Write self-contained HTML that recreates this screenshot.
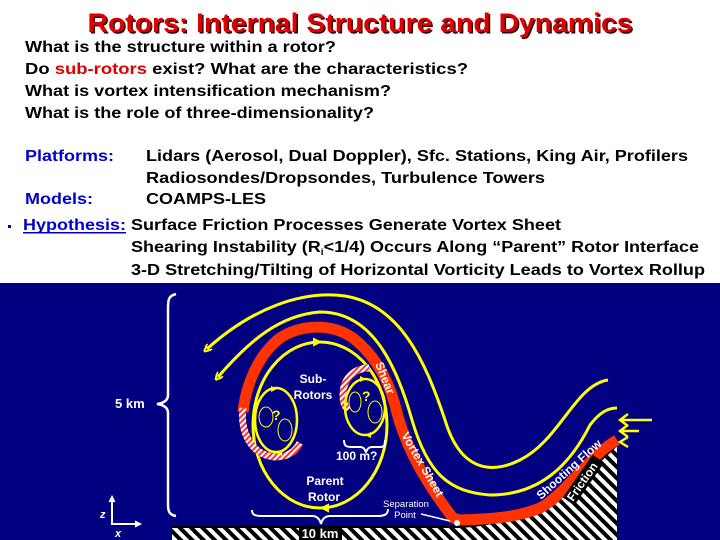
<!DOCTYPE html>
<html><head><meta charset="utf-8"><style>
html,body{margin:0;padding:0;background:#fff}
svg{display:block}
</style></head><body>
<svg width="720" height="540" viewBox="0 0 720 540" xmlns="http://www.w3.org/2000/svg" font-family="Liberation Sans, sans-serif" font-weight="bold">
<defs>
<pattern id="hb" width="8" height="8" patternUnits="userSpaceOnUse" patternTransform="rotate(-45)">
<rect width="8" height="8" fill="#fff"/><rect width="4" height="8" fill="#000"/></pattern>
<pattern id="hr" width="4" height="4" patternUnits="userSpaceOnUse" patternTransform="rotate(45)">
<rect width="4" height="4" fill="#fff"/><rect width="2" height="4" fill="#f33"/></pattern>
<marker id="ay" markerWidth="8" markerHeight="8" refX="4" refY="4" orient="auto" markerUnits="userSpaceOnUse"><path d="M8,0 L0,4 L8,8" fill="none" stroke="#ff0" stroke-width="2"/></marker>
</defs>
<rect width="720" height="540" fill="#fff"/>
<text x="360" y="32" text-anchor="middle" font-size="27" fill="#300" textLength="545" lengthAdjust="spacingAndGlyphs" transform="translate(1.5,1.5)">Rotors:  Internal Structure and Dynamics</text>
<text x="360" y="32" text-anchor="middle" font-size="27" fill="#d00" textLength="545" lengthAdjust="spacingAndGlyphs">Rotors:  Internal Structure and Dynamics</text>
<g font-size="16" fill="#000">
<text x="25" y="52" textLength="311" lengthAdjust="spacingAndGlyphs">What is the structure within a rotor?</text>
<text x="25" y="74" textLength="443" lengthAdjust="spacingAndGlyphs">Do <tspan fill="#d00">sub-rotors</tspan> exist?   What are the characteristics?</text>
<text x="25" y="96" textLength="366" lengthAdjust="spacingAndGlyphs">What is vortex intensification mechanism?</text>
<text x="25" y="118" textLength="349" lengthAdjust="spacingAndGlyphs">What is the role of three-dimensionality?</text>
<text x="25" y="161" fill="#00c" textLength="89" lengthAdjust="spacingAndGlyphs">Platforms:</text>
<text x="146" y="161" textLength="542" lengthAdjust="spacingAndGlyphs">Lidars (Aerosol, Dual Doppler), Sfc. Stations, King Air, Profilers</text>
<text x="146" y="183" textLength="399" lengthAdjust="spacingAndGlyphs">Radiosondes/Dropsondes, Turbulence Towers</text>
<text x="25" y="204" fill="#00c" textLength="68" lengthAdjust="spacingAndGlyphs">Models:</text>
<text x="146" y="204" textLength="120" lengthAdjust="spacingAndGlyphs">COAMPS-LES</text>
<rect x="8" y="225" width="3" height="3" fill="#00c"/>
<text x="23" y="230" fill="#00c" textLength="103" lengthAdjust="spacingAndGlyphs">Hypothesis:</text>
<rect x="23" y="232" width="103" height="1.5" fill="#00c"/>
<text x="131" y="230" textLength="430" lengthAdjust="spacingAndGlyphs">Surface Friction Processes Generate Vortex Sheet</text>
<text x="131" y="252" textLength="568" lengthAdjust="spacingAndGlyphs">Shearing Instability (R<tspan font-size="9" dy="3">i</tspan><tspan dy="-3">&lt;1/4) Occurs Along “Parent” Rotor Interface</tspan></text>
<text x="131" y="275" textLength="574" lengthAdjust="spacingAndGlyphs">3-D Stretching/Tilting of Horizontal Vorticity Leads to Vortex Rollup</text>
</g>
<rect x="0" y="283" width="720" height="257" fill="#000080"/>
<!-- ground -->
<path d="M172,527 L460,527 C520,524 560,500 617,445 L617,540 L172,540 Z" fill="url(#hb)"/>
<path d="M172,527 L460,527 C520,524 560,500 617,445" fill="none" stroke="#000" stroke-width="2"/>
<!-- brace left -->
<path d="M176,294 C168,296 168,300 168,310 L168,395 C168,400 164,403 157,404 C164,405 168,408 168,413 L168,505 C168,512 170,515 176,516" fill="none" stroke="#fff" stroke-width="2.5"/>
<text x="115" y="408" font-size="13" fill="#fff">5 km</text>
<!-- axes -->
<path d="M112,497 L112,524 L140,524" fill="none" stroke="#fff" stroke-width="2"/>
<path d="M109,502 L112,496 L115,502 M135,521 L141,524 L135,527" fill="#fff" stroke="#fff"/>
<text x="100" y="518" font-size="11" fill="#fff" font-style="italic">z</text>
<text x="115" y="537" font-size="11" fill="#fff" font-style="italic">x</text>
<!-- yellow streamlines -->
<path d="M207,349 C250,310 300,290 345,296 C400,305 425,360 445,420 C460,470 490,475 520,460 C560,440 575,385 608,380" fill="none" stroke="#ff0" stroke-width="3" marker-start="url(#ay)"/>
<path d="M218,377 C250,340 280,315 320,312 C370,312 395,360 412,420 C428,475 450,492 490,495 C540,495 570,465 590,425 C600,412 608,408 617,408" fill="none" stroke="#ff0" stroke-width="3" marker-start="url(#ay)"/>
<!-- parent rotor -->
<ellipse cx="320" cy="425" rx="67" ry="83" fill="none" stroke="#ff0" stroke-width="3"/>
<path d="M314,339 L320,342 L314,345 Z M328,505 L322,508 L328,511 Z" fill="#ff0" stroke="#ff0" stroke-width="2"/>
<!-- red vortex sheet -->
<path d="M243,412 C246,385 258,355 280,338 C300,325 330,322 353,338 C375,355 388,380 395,405 C403,440 420,475 453,518 L460,520 C490,519 515,518 540,508 C565,495 590,455 617,440" fill="none" stroke="#f30" stroke-width="11"/>
<!-- sub rotor hatched arcs -->
<path d="M243,408 C240,430 250,455 275,457 C290,457 296,450 300,443" fill="none" stroke="url(#hr)" stroke-width="7"/>
<path d="M369,368 C355,368 343,378 343,395 C343,402 345,407 348,410" fill="none" stroke="url(#hr)" stroke-width="7"/>
<!-- sub rotors -->
<ellipse cx="276" cy="420" rx="21" ry="32" fill="none" stroke="#ff0" stroke-width="2.5"/>
<ellipse cx="365" cy="407" rx="20" ry="28" fill="none" stroke="#ff0" stroke-width="2.5"/>
<path d="M271,386 L277,389 L271,392 Z M282,450 L276,453 L282,456 Z M360,376 L366,379 L360,382 Z M371,432 L365,435 L371,438 Z" fill="#ff0"/>
<g fill="none" stroke="#ff0" stroke-width="1">
<ellipse cx="266" cy="417" rx="7" ry="10"/><ellipse cx="285" cy="430" rx="7" ry="11"/>
<ellipse cx="355" cy="402" rx="6" ry="10"/><ellipse cx="375" cy="412" rx="7" ry="11"/>
</g>
<text x="272" y="420" font-size="14" fill="#ff0">?</text>
<text x="362" y="401" font-size="14" fill="#ff0">?</text>
<!-- small brace -->
<path d="M344,440 C344,446 346,447 352,447 L360,447 C364,447 365,450 366,452 C367,450 368,447 372,447 L380,447 C384,447 385,446 385,440" fill="none" stroke="#fff" stroke-width="2"/>
<text x="336" y="460" font-size="12" fill="#fff">100 m?</text>
<!-- labels -->
<g font-size="12" fill="#fff" text-anchor="middle">
<text x="313" y="383">Sub-</text><text x="313" y="399">Rotors</text>
<text x="325" y="485">Parent</text><text x="324" y="501">Rotor</text>
</g>
<!-- bottom brace -->
<path d="M252,510 C252,515 255,516 262,516 L312,516 C318,516 320,520 321,524 C322,520 324,516 330,516 L378,516 C385,516 388,514 388,509" fill="none" stroke="#fff" stroke-width="2"/>
<rect x="299" y="527" width="43" height="13" fill="#000"/>
<text x="320" y="538" font-size="13" fill="#fff" text-anchor="middle">10 km</text>
<text x="406" y="507" font-size="9.5" font-weight="normal" fill="#fff" text-anchor="middle">Separation</text>
<text x="405" y="518" font-size="9.5" font-weight="normal" fill="#fff" text-anchor="middle">Point</text>
<path d="M421,514 L450,521" stroke="#fff" stroke-width="1.5"/>
<circle cx="457" cy="523" r="3" fill="#fff"/>
<!-- text along sheet -->
<text x="0" y="0" font-size="12" fill="#fff" transform="translate(375,364) rotate(68)">Shear</text>
<text x="0" y="0" font-size="12" fill="#fff" transform="translate(401,435) rotate(60)">Vortex Sheet</text>
<text x="0" y="0" font-size="12" fill="#fff" transform="translate(541,500) rotate(-42)">Shooting Flow</text>
<g transform="translate(573,502) rotate(-55)"><rect x="-2" y="-11" width="52" height="14" fill="#000"/><text x="0" y="0" font-size="12" fill="#fff">Friction</text></g>
<!-- inflow arrows -->
<g stroke="#ff0" stroke-width="2.5" fill="none">
<path d="M652,420 L620,420 M628,414 L620,420 L628,426"/>
<path d="M639,431 L620,431 M628,425 L620,431 L628,437"/>
<path d="M628,437 L620,442 L628,447"/>
</g>
</svg>
</body></html>
